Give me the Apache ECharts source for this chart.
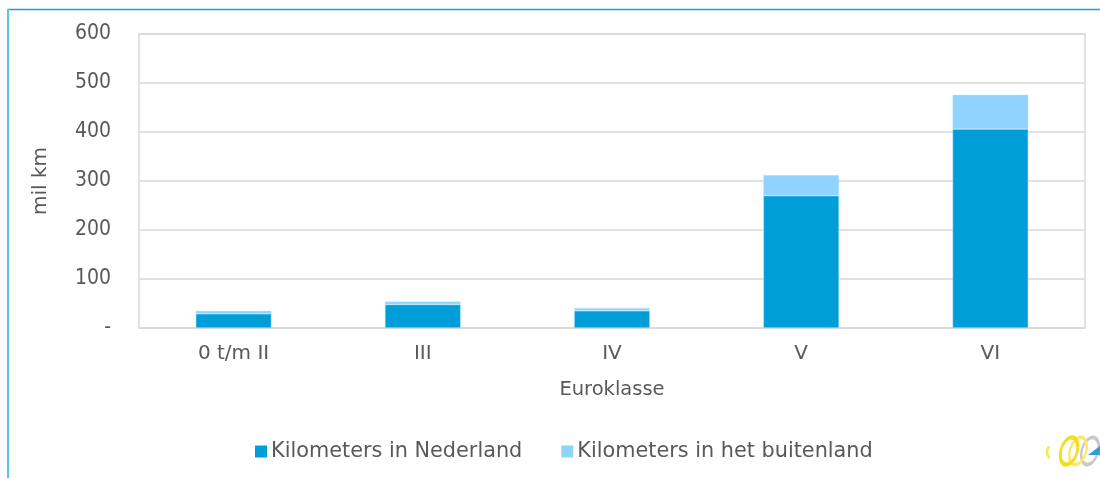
<!DOCTYPE html>
<html>
<head>
<meta charset="utf-8">
<script src="https://cdn.jsdelivr.net/npm/echarts@6/dist/echarts.min.js"></script>
<style>
html,body{margin:0;padding:0;background:#fff;}
#c{width:1100px;height:478px;}
</style>
</head>
<body>
<div id="c"></div>
<script>
var categories = ['0 t/m II', 'III', 'IV', 'V', 'VI'];
var kmNederland = [29, 48, 35, 270, 406];
var kmBuitenland = [6, 6, 6, 42, 70];
var yTicks = [0, 100, 200, 300, 400, 500, 600];
var seriesNames = ['Kilometers in Nederland', 'Kilometers in het buitenland'];
var xTitle = 'Euroklasse';
var yTitle = 'mil km';

var font = 'DejaVu Sans';
var fontC = 'DejaVu Sans Condensed';
var textColor = '#595959';
var chart = echarts.init(document.getElementById('c'), null, {renderer: 'canvas'});
chart.setOption({
  animation: false,
  backgroundColor: '#fff',
  textStyle: {fontFamily: font},
  grid: {left: 139, top: 34, right: 15, bottom: 150, show: true, borderColor: '#d9d9d9', borderWidth: 1.5, containLabel: false},
  legend: {
    bottom: 16, left: 255, padding: 0, itemWidth: 12, itemHeight: 12, itemGap: 39,
    icon: 'rect',
    itemStyle: {borderWidth: 0},
    textStyle: {fontFamily: font, fontSize: 20.8, color: textColor, padding: [0, 0, 0, -1]},
    data: seriesNames
  },
  xAxis: {
    type: 'category', data: categories,
    name: xTitle, nameLocation: 'middle', nameGap: 52,
    nameTextStyle: {fontFamily: font, fontSize: 19.5, color: textColor},
    axisLine: {show: true, lineStyle: {color: '#d9d9d9', width: 1.5}},
    axisTick: {show: false},
    axisLabel: {fontFamily: font, fontSize: 20, color: textColor, margin: 16}
  },
  yAxis: {
    type: 'value', min: yTicks[0], max: yTicks[yTicks.length - 1], interval: 100,
    name: yTitle, nameLocation: 'middle', nameGap: 88, nameRotate: 90,
    nameTextStyle: {fontFamily: font, fontSize: 20, color: textColor},
    axisLine: {show: false}, axisTick: {show: false},
    splitLine: {lineStyle: {color: '#d9d9d9', width: 1.5}},
    axisLabel: {fontFamily: fontC, fontSize: 21, color: textColor, margin: 28,
      formatter: function (v) { return v === 0 ? '-' : String(v); }}
  },
  series: [
    {name: seriesNames[0], type: 'bar', stack: 'a', data: kmNederland, barWidth: '40%',
     itemStyle: {color: '#009ed8', borderColor: '#bfe7f8', borderWidth: 0.5}},
    {name: seriesNames[1], type: 'bar', stack: 'a', data: kmBuitenland, barWidth: '40%',
     itemStyle: {color: '#8fd3fe', borderColor: '#bfe7f8', borderWidth: 0.5}}
  ],
  graphic: [
    {type: 'line', shape: {x1: 8, y1: 9.5, x2: 1100, y2: 9.5}, style: {stroke: '#1a9fd0', lineWidth: 1.5}, silent: true},
    {type: 'line', shape: {x1: 8, y1: 9, x2: 8, y2: 478}, style: {stroke: '#5bc3ea', lineWidth: 2}, silent: true},
    {type: 'circle', shape: {cx: 0, cy: 0, r: 14}, x: 1090, y: 451, scaleX: 0.58, rotation: -0.3, strokeNoScale: true,
     style: {fill: null, stroke: '#c9c9c9', lineWidth: 4}, silent: true},
    {type: 'circle', shape: {cx: 0, cy: 0, r: 14}, x: 1078, y: 451, scaleX: 0.58, rotation: -0.3, strokeNoScale: true,
     style: {fill: null, stroke: '#f7ea6e', lineWidth: 4}, silent: true},
    {type: 'circle', shape: {cx: 0, cy: 0, r: 14}, x: 1069, y: 451, scaleX: 0.58, rotation: -0.3, strokeNoScale: true,
     style: {fill: null, stroke: '#f3dd1e', lineWidth: 4.5}, silent: true},
    {type: 'polygon', shape: {points: [[1088, 455], [1100, 446], [1100, 455]]}, style: {fill: '#2f9fd8'}, silent: true},
    {type: 'arc', shape: {cx: 1055, cy: 452, r: 8, startAngle: 2.3, endAngle: 3.9}, style: {stroke: '#f6e84a', lineWidth: 2.5, fill: null}, silent: true}
  ]
});
</script>
</body>
</html>
